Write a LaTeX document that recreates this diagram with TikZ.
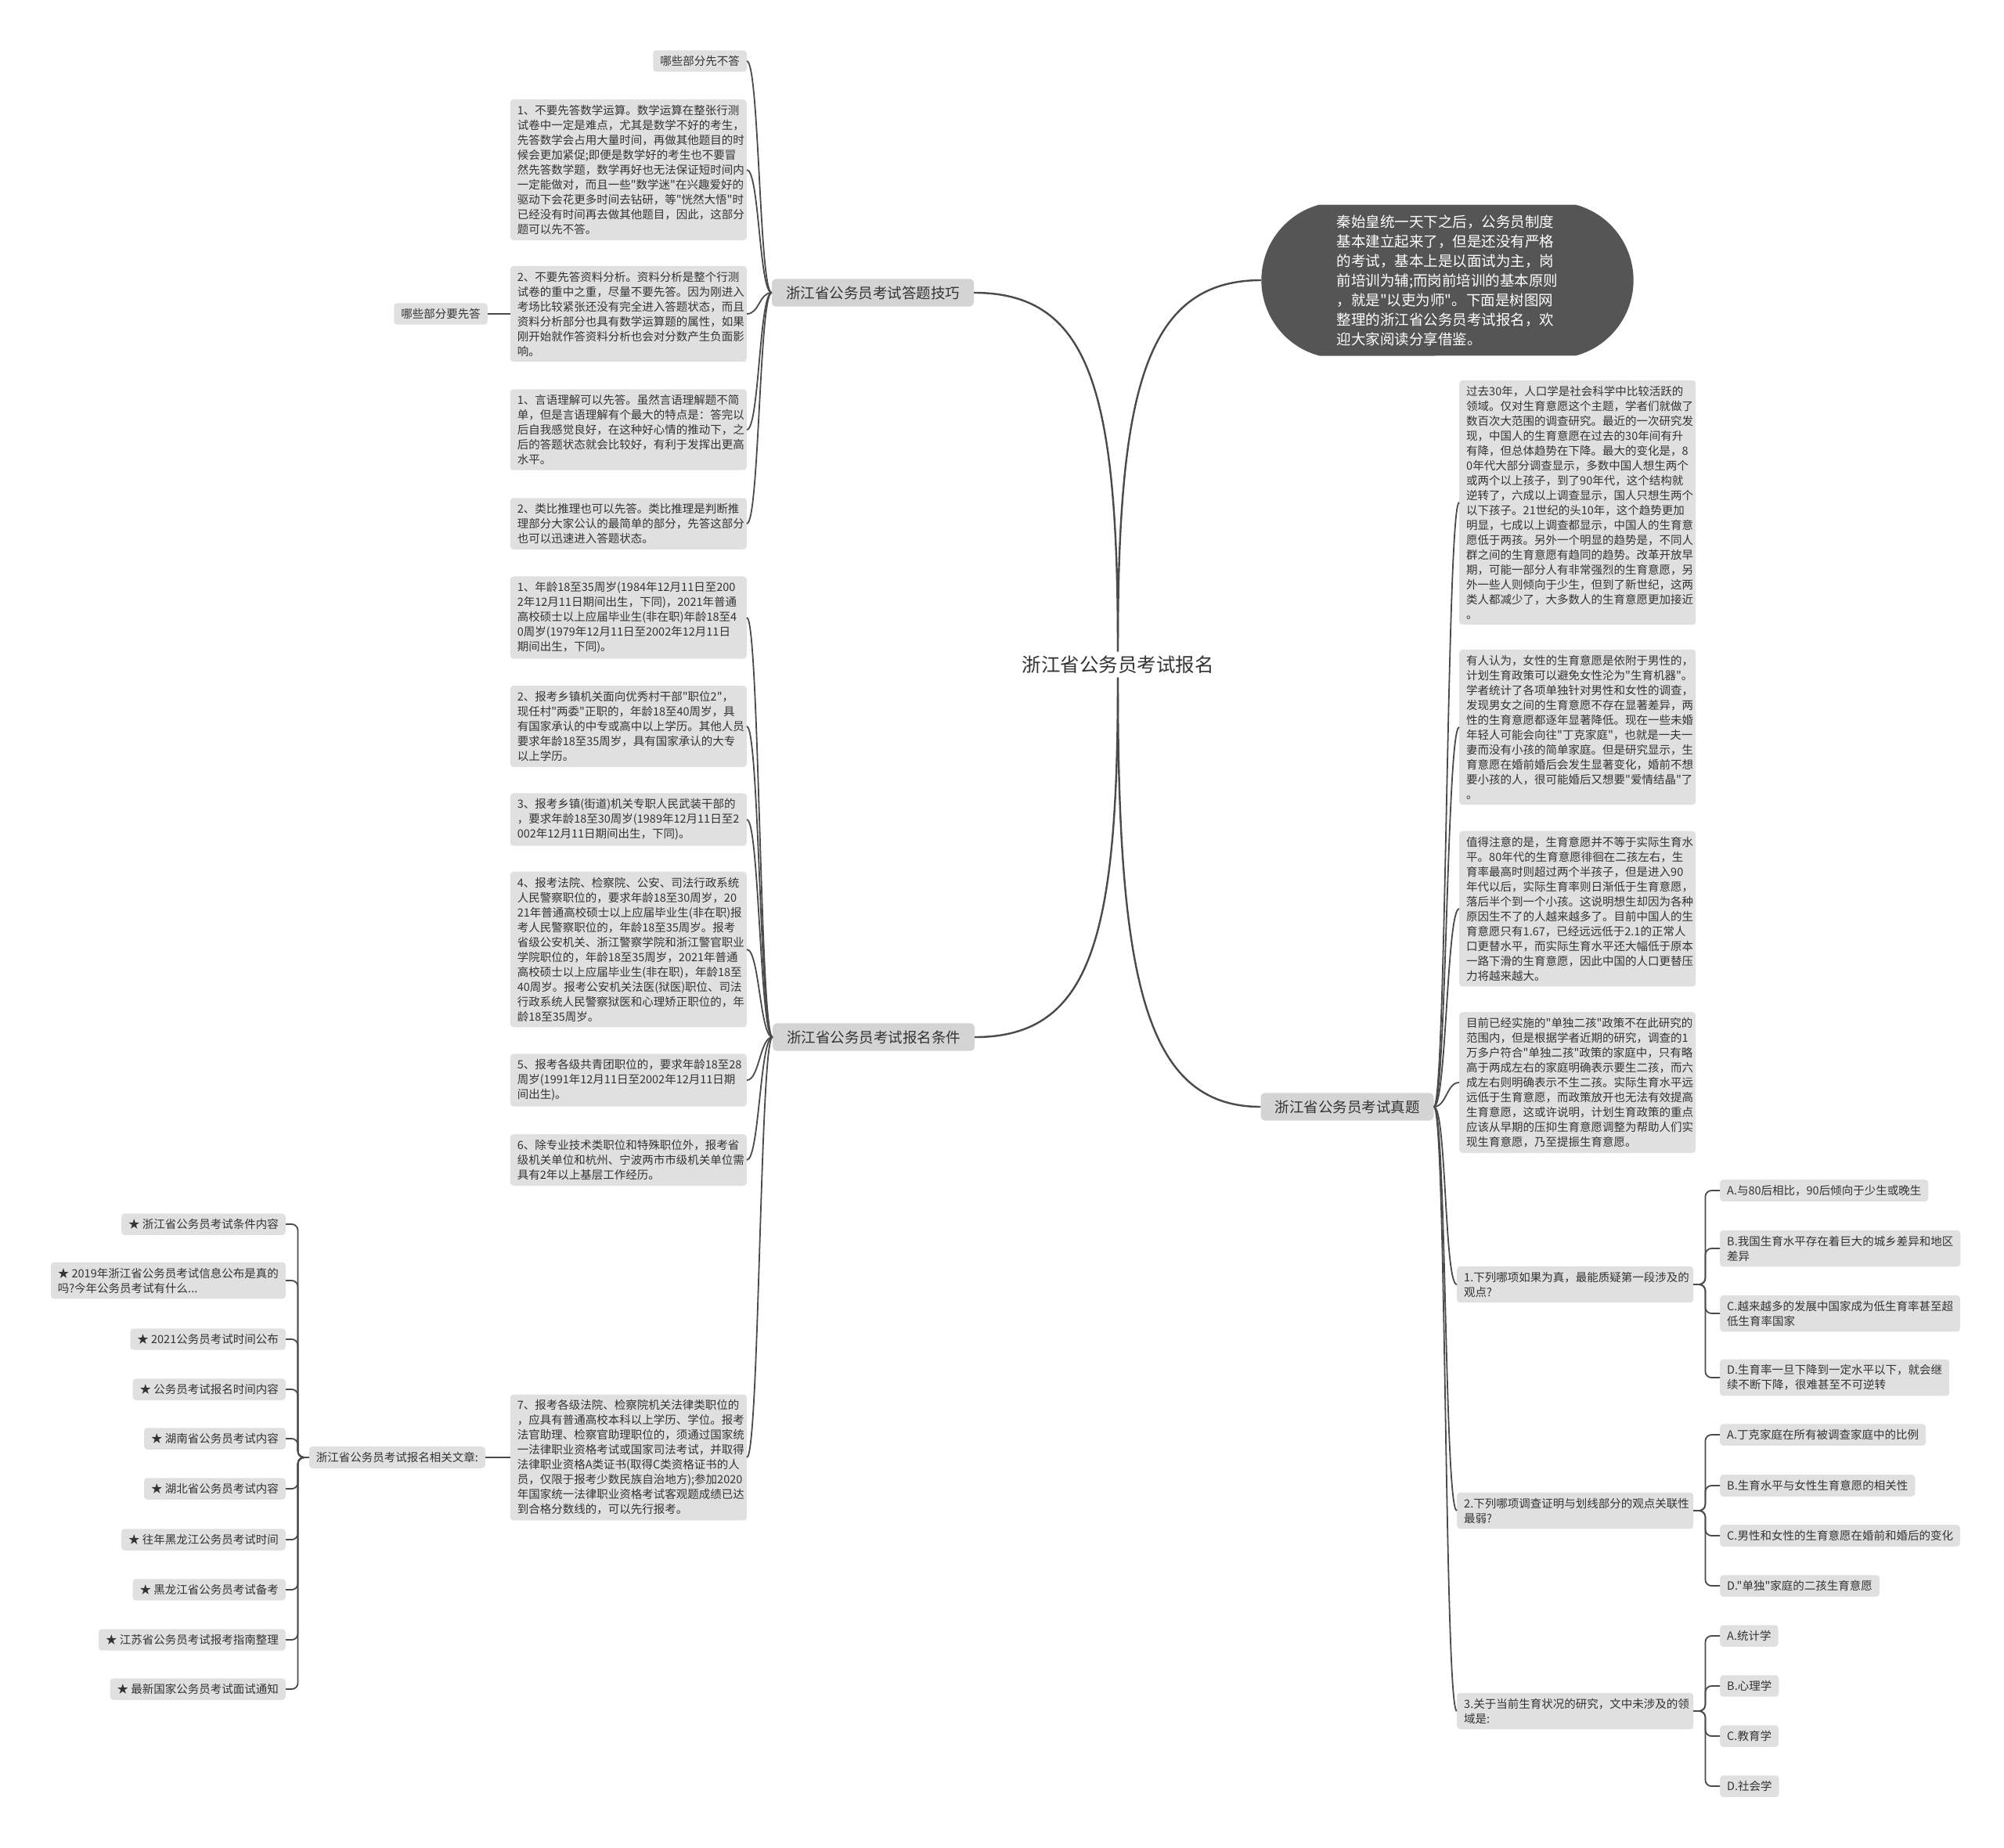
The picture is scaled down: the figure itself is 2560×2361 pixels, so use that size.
\documentclass[tikz,border=0pt]{standalone}
\usepackage{fontspec}
\setmainfont{Noto Sans CJK SC}[Ligatures=TeXOff]
\usetikzlibrary{shapes.misc}
\definecolor{leafgray}{HTML}{E0E0E0}
\definecolor{branchgray}{HTML}{D4D4D4}
\definecolor{introgray}{HTML}{555555}
\definecolor{inkgray}{HTML}{333333}
\definecolor{wiregray}{HTML}{4A4A4A}
\tikzset{
  leaf/.style={fill=leafgray, rounded corners=4pt, inner xsep=9pt, inner ysep=7pt, text=inkgray, align=left, font=\fontsize{14.5}{19}\selectfont},
  para/.style={leaf, text width=284pt},
  branch/.style={fill=branchgray, rounded corners=5pt, inner xsep=18pt, inner ysep=9pt, text=inkgray, font=\fontsize{18.5}{23}\selectfont},
  wire/.style={draw=wiregray, line width=1.8pt},
  mainwire/.style={draw=wiregray, line width=2.4pt},
  elbow/.style={wire, rounded corners=8pt},
}
\begin{document}
\begin{tikzpicture}[x=1pt, y=-1pt]
\useasboundingbox (0,0) rectangle (2560,2361);

% Root
\node[text=inkgray, font=\fontsize{24.5}{28}\selectfont, inner sep=5pt] (root) at (1428,849) {浙江省公务员考试报名};

% Main topics
\node[branch] (tips) at (1115,374) {浙江省公务员考试答题技巧};
\node[branch] (cond) at (1116,1325) {浙江省公务员考试报名条件};
\node[branch] (exam) at (1721,1414) {浙江省公务员考试真题};
\node[rounded rectangle, rounded rectangle arc length=150, fill=introgray, text=white, minimum width=482pt, minimum height=193pt, align=left, font=\fontsize{18.5}{25}\selectfont] (intro) at (1849,358) {秦始皇统一天下之后，公务员制度\\基本建立起来了，但是还没有严格\\的考试，基本上是以面试为主，岗\\前培训为辅;而岗前培训的基本原则\\，就是"以吏为师"。下面是树图网\\整理的浙江省公务员考试报名，欢\\迎大家阅读分享借鉴。};

% Root links
\draw[mainwire] (root.north) .. controls +(0,-330) and +(150,0) .. (tips.east);
\draw[mainwire] (root.south) .. controls +(0,330) and +(150,0) .. (cond.east);
\draw[mainwire] (root.north) .. controls +(0,-330) and +(-150,0) .. (intro.west);
\draw[mainwire] (root.south) .. controls +(0,380) and +(-150,0) .. (exam.west);

% Answering tips
\node[leaf, anchor=east] (t0) at (954,78) {哪些部分先不答};
\node[para, anchor=east] (t1) at (954,217) {1、不要先答数学运算。数学运算在整张行测\\试卷中一定是难点，尤其是数学不好的考生，\\先答数学会占用大量时间，再做其他题目的时\\候会更加紧促;即便是数学好的考生也不要冒\\然先答数学题，数学再好也无法保证短时间内\\一定能做对，而且一些"数学迷"在兴趣爱好的\\驱动下会花更多时间去钻研，等"恍然大悟"时\\已经没有时间再去做其他题目，因此，这部分\\题可以先不答。};
\node[para, anchor=east] (t2) at (954,401) {2、不要先答资料分析。资料分析是整个行测\\试卷的重中之重，尽量不要先答。因为刚进入\\考场比较紧张还没有完全进入答题状态，而且\\资料分析部分也具有数学运算题的属性，如果\\刚开始就作答资料分析也会对分数产生负面影\\响。};
\node[para, anchor=east] (t3) at (954,549) {1、言语理解可以先答。虽然言语理解题不简\\单，但是言语理解有个最大的特点是：答完以\\后自我感觉良好，在这种好心情的推动下，之\\后的答题状态就会比较好，有利于发挥出更高\\水平。};
\node[para, anchor=east] (t4) at (954,669) {2、类比推理也可以先答。类比推理是判断推\\理部分大家公认的最简单的部分，先答这部分\\也可以迅速进入答题状态。};
\node[leaf, anchor=east] (tfirst) at (623,401) {哪些部分要先答};

\draw[wire] (tips.west) .. controls +(-16,0) and +(16,0) .. (t0.east);
\draw[wire] (tips.west) .. controls +(-16,0) and +(16,0) .. (t1.east);
\draw[wire] (tips.west) .. controls +(-16,0) and +(16,0) .. (t2.east);
\draw[wire] (tips.west) .. controls +(-16,0) and +(16,0) .. (t3.east);
\draw[wire] (tips.west) .. controls +(-16,0) and +(16,0) .. (t4.east);
\draw[wire] (tfirst.east) -- (t2.west);

% Registration conditions
\node[para, anchor=east] (c1) at (954,789) {1、年龄18至35周岁(1984年12月11日至200\\2年12月11日期间出生，下同)，2021年普通\\高校硕士以上应届毕业生(非在职)年龄18至4\\0周岁(1979年12月11日至2002年12月11日\\期间出生，下同)。};
\node[para, anchor=east] (c2) at (954,928) {2、报考乡镇机关面向优秀村干部"职位2"，\\现任村"两委"正职的，年龄18至40周岁，具\\有国家承认的中专或高中以上学历。其他人员\\要求年龄18至35周岁，具有国家承认的大专\\以上学历。};
\node[para, anchor=east] (c3) at (954,1047) {3、报考乡镇(街道)机关专职人民武装干部的\\，要求年龄18至30周岁(1989年12月11日至2\\002年12月11日期间出生，下同)。};
\node[para, anchor=east] (c4) at (954,1213) {4、报考法院、检察院、公安、司法行政系统\\人民警察职位的，要求年龄18至30周岁，20\\21年普通高校硕士以上应届毕业生(非在职)报\\考人民警察职位的，年龄18至35周岁。报考\\省级公安机关、浙江警察学院和浙江警官职业\\学院职位的，年龄18至35周岁，2021年普通\\高校硕士以上应届毕业生(非在职)，年龄18至\\40周岁。报考公安机关法医(狱医)职位、司法\\行政系统人民警察狱医和心理矫正职位的，年\\龄18至35周岁。};
\node[para, anchor=east] (c5) at (954,1380) {5、报考各级共青团职位的，要求年龄18至28\\周岁(1991年12月11日至2002年12月11日期\\间出生)。};
\node[para, anchor=east] (c6) at (954,1482) {6、除专业技术类职位和特殊职位外，报考省\\级机关单位和杭州、宁波两市市级机关单位需\\具有2年以上基层工作经历。};
\node[para, anchor=east] (c7) at (954,1862) {7、报考各级法院、检察院机关法律类职位的\\，应具有普通高校本科以上学历、学位。报考\\法官助理、检察官助理职位的，须通过国家统\\一法律职业资格考试或国家司法考试，并取得\\法律职业资格A类证书(取得C类资格证书的人\\员，仅限于报考少数民族自治地方);参加2020\\年国家统一法律职业资格考试客观题成绩已达\\到合格分数线的，可以先行报考。};

\draw[wire] (cond.west) .. controls +(-16,0) and +(16,0) .. (c1.east);
\draw[wire] (cond.west) .. controls +(-16,0) and +(16,0) .. (c2.east);
\draw[wire] (cond.west) .. controls +(-16,0) and +(16,0) .. (c3.east);
\draw[wire] (cond.west) .. controls +(-16,0) and +(16,0) .. (c4.east);
\draw[wire] (cond.west) .. controls +(-16,0) and +(16,0) .. (c5.east);
\draw[wire] (cond.west) .. controls +(-16,0) and +(16,0) .. (c6.east);
\draw[wire] (cond.west) .. controls +(-16,0) and +(16,0) .. (c7.east);

% Related articles
\node[leaf, anchor=east] (rel) at (620,1862) {浙江省公务员考试报名相关文章:};
\draw[wire] (rel.east) -- (c7.west);

\node[leaf, anchor=east] (s1) at (365,1564) {★ 浙江省公务员考试条件内容};
\node[leaf, anchor=east] (s2) at (365,1636) {★ 2019年浙江省公务员考试信息公布是真的\\吗?今年公务员考试有什么...};
\node[leaf, anchor=east] (s3) at (365,1711) {★ 2021公务员考试时间公布};
\node[leaf, anchor=east] (s4) at (365,1775) {★ 公务员考试报名时间内容};
\node[leaf, anchor=east] (s5) at (365,1838) {★ 湖南省公务员考试内容};
\node[leaf, anchor=east] (s6) at (365,1902) {★ 湖北省公务员考试内容};
\node[leaf, anchor=east] (s7) at (365,1967) {★ 往年黑龙江公务员考试时间};
\node[leaf, anchor=east] (s8) at (365,2031) {★ 黑龙江省公务员考试备考};
\node[leaf, anchor=east] (s9) at (365,2095) {★ 江苏省公务员考试报考指南整理};
\node[leaf, anchor=east] (s10) at (365,2158) {★ 最新国家公务员考试面试通知};

\draw[elbow] (rel.west) -- ++(-14,0) |- (s1.east);
\draw[elbow] (rel.west) -- ++(-14,0) |- (s2.east);
\draw[elbow] (rel.west) -- ++(-14,0) |- (s3.east);
\draw[elbow] (rel.west) -- ++(-14,0) |- (s4.east);
\draw[elbow] (rel.west) -- ++(-14,0) |- (s5.east);
\draw[elbow] (rel.west) -- ++(-14,0) |- (s6.east);
\draw[elbow] (rel.west) -- ++(-14,0) |- (s7.east);
\draw[elbow] (rel.west) -- ++(-14,0) |- (s8.east);
\draw[elbow] (rel.west) -- ++(-14,0) |- (s9.east);
\draw[elbow] (rel.west) -- ++(-14,0) |- (s10.east);

% Exam questions
\node[para, anchor=west] (r1) at (1864,642) {过去30年，人口学是社会科学中比较活跃的\\领域。仅对生育意愿这个主题，学者们就做了\\数百次大范围的调查研究。最近的一次研究发\\现，中国人的生育意愿在过去的30年间有升\\有降，但总体趋势在下降。最大的变化是，8\\0年代大部分调查显示，多数中国人想生两个\\或两个以上孩子，到了90年代，这个结构就\\逆转了，六成以上调查显示，国人只想生两个\\以下孩子。21世纪的头10年，这个趋势更加\\明显，七成以上调查都显示，中国人的生育意\\愿低于两孩。另外一个明显的趋势是，不同人\\群之间的生育意愿有趋同的趋势。改革开放早\\期，可能一部分人有非常强烈的生育意愿，另\\外一些人则倾向于少生，但到了新世纪，这两\\类人都减少了，大多数人的生育意愿更加接近\\。};
\node[para, anchor=west] (r2) at (1864,929) {有人认为，女性的生育意愿是依附于男性的，\\计划生育政策可以避免女性沦为"生育机器"。\\学者统计了各项单独针对男性和女性的调查，\\发现男女之间的生育意愿不存在显著差异，两\\性的生育意愿都逐年显著降低。现在一些未婚\\年轻人可能会向往"丁克家庭"，也就是一夫一\\妻而没有小孩的简单家庭。但是研究显示，生\\育意愿在婚前婚后会发生显著变化，婚前不想\\要小孩的人，很可能婚后又想要"爱情结晶"了\\。};
\node[para, anchor=west] (r3) at (1864,1161) {值得注意的是，生育意愿并不等于实际生育水\\平。80年代的生育意愿徘徊在二孩左右，生\\育率最高时则超过两个半孩子，但是进入90\\年代以后，实际生育率则日渐低于生育意愿，\\落后半个到一个小孩。这说明想生却因为各种\\原因生不了的人越来越多了。目前中国人的生\\育意愿只有1.67，已经远远低于2.1的正常人\\口更替水平，而实际生育水平还大幅低于原本\\一路下滑的生育意愿，因此中国的人口更替压\\力将越来越大。};
\node[para, anchor=west] (r4) at (1864,1383) {目前已经实施的"单独二孩"政策不在此研究的\\范围内，但是根据学者近期的研究，调查的1\\万多户符合"单独二孩"政策的家庭中，只有略\\高于两成左右的家庭明确表示要生二孩，而六\\成左右则明确表示不生二孩。实际生育水平远\\远低于生育意愿，而政策放开也无法有效提高\\生育意愿，这或许说明，计划生育政策的重点\\应该从早期的压抑生育意愿调整为帮助人们实\\现生育意愿，乃至提振生育意愿。};
\node[para, anchor=west] (q1) at (1861,1641) {1.下列哪项如果为真，最能质疑第一段涉及的\\观点?};
\node[para, anchor=west] (q2) at (1861,1930) {2.下列哪项调查证明与划线部分的观点关联性\\最弱?};
\node[para, anchor=west] (q3) at (1861,2186) {3.关于当前生育状况的研究，文中未涉及的领\\域是:};

\draw[wire] (exam.east) .. controls +(16,0) and +(-16,0) .. (r1.west);
\draw[wire] (exam.east) .. controls +(16,0) and +(-16,0) .. (r2.west);
\draw[wire] (exam.east) .. controls +(16,0) and +(-16,0) .. (r3.west);
\draw[wire] (exam.east) .. controls +(16,0) and +(-16,0) .. (r4.west);
\draw[wire] (exam.east) .. controls +(16,0) and +(-16,0) .. (q1.west);
\draw[wire] (exam.east) .. controls +(16,0) and +(-16,0) .. (q2.west);
\draw[wire] (exam.east) .. controls +(16,0) and +(-16,0) .. (q3.west);

% Options of question 1
\node[leaf, anchor=west] (q1a) at (2197,1521) {A.与80后相比，90后倾向于少生或晚生};
\node[leaf, anchor=west] (q1b) at (2197,1595) {B.我国生育水平存在着巨大的城乡差异和地区\\差异};
\node[leaf, anchor=west] (q1c) at (2197,1678) {C.越来越多的发展中国家成为低生育率甚至超\\低生育率国家};
\node[leaf, anchor=west] (q1d) at (2197,1760) {D.生育率一旦下降到一定水平以下，就会继\\续不断下降，很难甚至不可逆转};
\draw[elbow] (q1.east) -- ++(15,0) |- (q1a.west);
\draw[elbow] (q1.east) -- ++(15,0) |- (q1b.west);
\draw[elbow] (q1.east) -- ++(15,0) |- (q1c.west);
\draw[elbow] (q1.east) -- ++(15,0) |- (q1d.west);

% Options of question 2
\node[leaf, anchor=west] (q2a) at (2197,1833) {A.丁克家庭在所有被调查家庭中的比例};
\node[leaf, anchor=west] (q2b) at (2197,1898) {B.生育水平与女性生育意愿的相关性};
\node[leaf, anchor=west] (q2c) at (2197,1962) {C.男性和女性的生育意愿在婚前和婚后的变化};
\node[leaf, anchor=west] (q2d) at (2197,2026) {D."单独"家庭的二孩生育意愿};
\draw[elbow] (q2.east) -- ++(15,0) |- (q2a.west);
\draw[elbow] (q2.east) -- ++(15,0) |- (q2b.west);
\draw[elbow] (q2.east) -- ++(15,0) |- (q2c.west);
\draw[elbow] (q2.east) -- ++(15,0) |- (q2d.west);

% Options of question 3
\node[leaf, anchor=west] (q3a) at (2197,2090) {A.统计学};
\node[leaf, anchor=west] (q3b) at (2197,2154) {B.心理学};
\node[leaf, anchor=west] (q3c) at (2197,2218) {C.教育学};
\node[leaf, anchor=west] (q3d) at (2197,2282) {D.社会学};
\draw[elbow] (q3.east) -- ++(15,0) |- (q3a.west);
\draw[elbow] (q3.east) -- ++(15,0) |- (q3b.west);
\draw[elbow] (q3.east) -- ++(15,0) |- (q3c.west);
\draw[elbow] (q3.east) -- ++(15,0) |- (q3d.west);
\end{tikzpicture}
\end{document}
